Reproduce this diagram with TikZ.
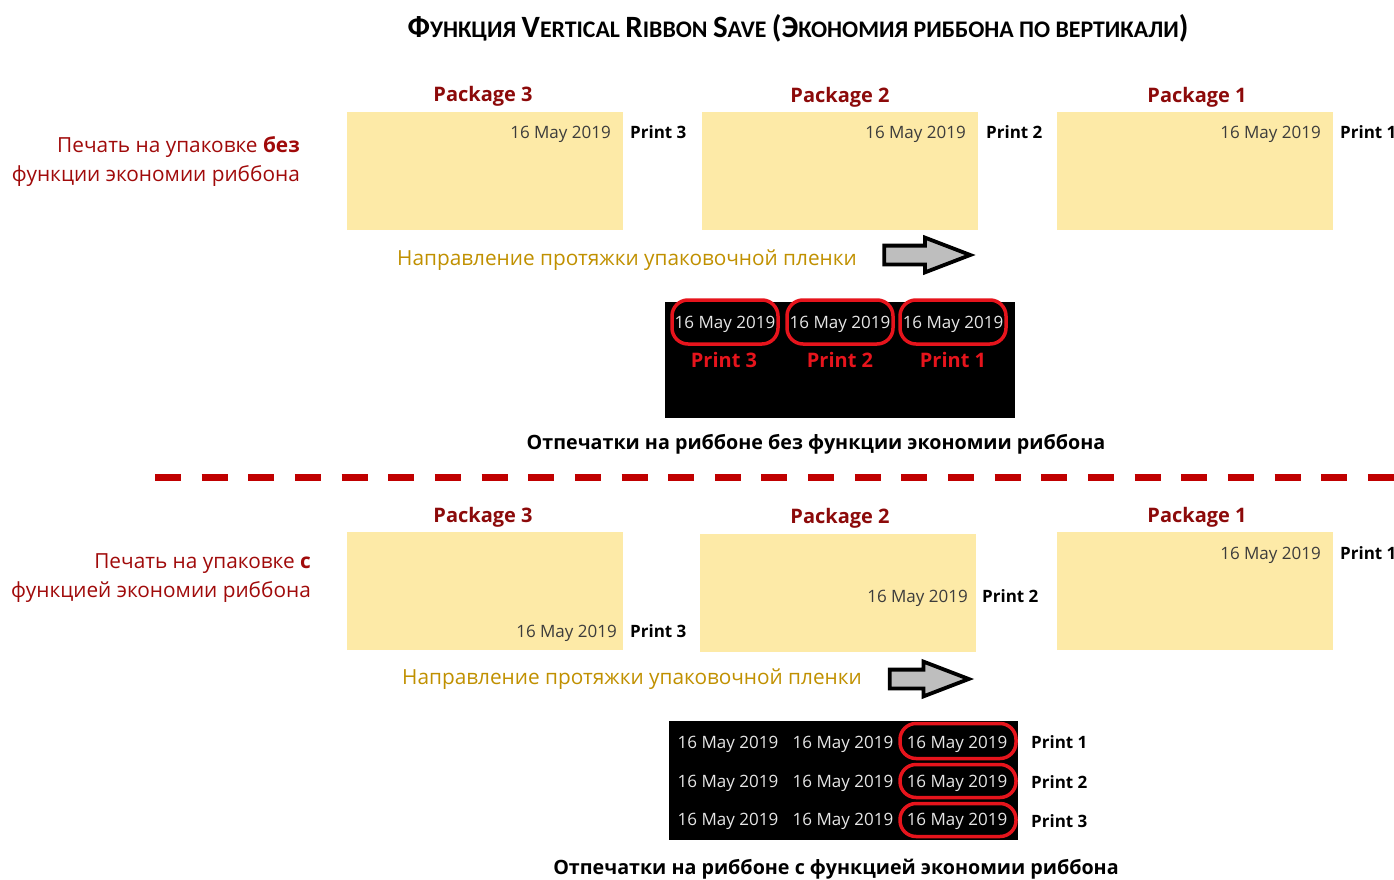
\documentclass[tikz,border=0pt]{standalone}
\usepackage{fontspec}
\setmainfont{Open Sans}
\newfontfamily\titlefont{Carlito}
\usetikzlibrary{shapes.arrows}
\definecolor{pkgyellow}{RGB}{253,234,167}
\definecolor{pkgred}{RGB}{140,10,10}
\definecolor{lblred}{RGB}{160,10,10}
\definecolor{gold}{RGB}{192,144,0}
\definecolor{dategray}{RGB}{60,60,60}
\definecolor{ribbontext}{RGB}{230,230,230}
\definecolor{ovalred}{RGB}{230,20,28}
\definecolor{dashred}{RGB}{192,0,0}
\definecolor{arrowgray}{RGB}{190,190,190}
\newcommand\tcap[1]{{\fontsize{31}{35}\selectfont #1}}
\newcommand\tsml[1]{{\fontsize{23.8}{28}\selectfont #1}}
\begin{document}
\begin{tikzpicture}[x=1pt,y=-1pt,
  pkgbox/.style={fill=pkgyellow, draw=none, minimum width=276pt, minimum height=118pt, anchor=north west, inner sep=0pt},
  pkglabel/.style={font=\bfseries\fontsize{20}{24}\selectfont, text=pkgred, anchor=base, inner sep=0pt},
  datetxt/.style={font=\fontsize{17}{20}\selectfont, text=dategray, anchor=base east, inner sep=0pt},
  printlbl/.style={font=\bfseries\fontsize{17}{20}\selectfont, text=black, anchor=base west, inner sep=0pt},
  sidelbl/.style={font=\fontsize{20.8}{24}\selectfont, text=lblred, anchor=base east, inner sep=0pt},
  dirtxt/.style={font=\fontsize{20.8}{24}\selectfont, text=gold, anchor=base west, inner sep=0pt},
  caption/.style={font=\bfseries\fontsize{19.7}{23}\selectfont, text=black, anchor=base, inner sep=0pt},
  ribbon/.style={fill=black, draw=none, anchor=north west, inner sep=0pt},
  ribdate/.style={font=\fontsize{17}{20}\selectfont, text=ribbontext, anchor=base, inner sep=0pt},
  ribprint/.style={font=\bfseries\fontsize{20}{24}\selectfont, text=ovalred, anchor=base, inner sep=0pt},
  oval/.style={draw=ovalred, line width=3.5pt, rounded corners=16pt, fill=none, inner sep=0pt},
  blockarrow/.style={single arrow, draw=black, fill=arrowgray, line width=3.8pt, inner xsep=0pt, inner ysep=7.5pt, single arrow tip angle=42, single arrow head extend=8pt, minimum height=#1, minimum width=32pt}
]
\useasboundingbox (0,0) rectangle (1394,880);

% title
\node[anchor=base, inner sep=0pt, font=\titlefont\bfseries\fontsize{23.8}{28}\selectfont] (title) at (798,38)
 {\tcap{Ф}\tsml{УНКЦИЯ} \tcap{V}\tsml{ERTICAL} \tcap{R}\tsml{IBBON} \tcap{S}\tsml{AVE} \tcap{(Э}\tsml{КОНОМИЯ РИББОНА ПО ВЕРТИКАЛИ}\tcap{)}};

% ---------- top part ----------
\node[sidelbl] (sl1a) at (300,152) {Печать на упаковке \textbf{без}};
\node[sidelbl] (sl1b) at (300,181) {функции экономии риббона};

\node[pkgbox] (p3a) at (347,112) {};
\node[pkgbox] (p2a) at (702,112) {};
\node[pkgbox] (p1a) at (1057,112) {};
\node[pkglabel] (l3a) at (483,102) {Package 3};
\node[pkglabel] (l2a) at (840,103) {Package 2};
\node[pkglabel] (l1a) at (1197,103) {Package 1};

\node[datetxt] (d3a) at (611,139) {16 May 2019};
\node[printlbl] (pr3a) at (630,139) {Print 3};
\node[datetxt] (d2a) at (966,139) {16 May 2019};
\node[printlbl] (pr2a) at (986,139) {Print 2};
\node[datetxt] (d1a) at (1321,139) {16 May 2019};
\node[printlbl] (pr1a) at (1340,139) {Print 1};

\node[dirtxt] (dir1) at (397,265) {Направление протяжки упаковочной пленки};
\node[blockarrow=86pt] (arr1) at (915,255) {};

\node[ribbon, minimum width=350pt, minimum height=116pt] (rib1) at (665,302) {};
\node[oval, minimum width=106pt, minimum height=44pt] (o3) at (725,322) {};
\node[oval, minimum width=106pt, minimum height=44pt] (o2) at (840,322) {};
\node[oval, minimum width=106pt, minimum height=44pt] (o1) at (953,322) {};
\node[ribdate] (rd3) at (725,328) {16 May 2019};
\node[ribdate] (rd2) at (840,328) {16 May 2019};
\node[ribdate] (rd1) at (953,328) {16 May 2019};
\node[ribprint] (rp3) at (724,367) {Print 3};
\node[ribprint] (rp2) at (840,367) {Print 2};
\node[ribprint] (rp1) at (953,367) {Print 1};

\node[caption] (cap1) at (816,449) {Отпечатки на риббоне без функции экономии риббона};

% divider
\coordinate (dl) at (155,477);
\coordinate (dr) at (1394,477);
\draw[dashred, line width=7pt, dash pattern=on 26pt off 20.65pt] (dl) -- (dr);

% ---------- bottom part ----------
\node[sidelbl] (sl2a) at (311,568) {Печать на упаковке \textbf{с}};
\node[sidelbl] (sl2b) at (311,597) {функцией экономии риббона};

\node[pkgbox] (p3b) at (347,532) {};
\node[pkgbox] (p2b) at (700,534) {};
\node[pkgbox] (p1b) at (1057,532) {};
\node[pkglabel] (l3b) at (483,522) {Package 3};
\node[pkglabel] (l2b) at (840,523) {Package 2};
\node[pkglabel] (l1b) at (1197,522) {Package 1};

\node[datetxt] (d3b) at (617,637) {16 May 2019};
\node[printlbl] (pr3b) at (630,637) {Print 3};
\node[datetxt] (d2b) at (968,602) {16 May 2019};
\node[printlbl] (pr2b) at (982,602) {Print 2};
\node[datetxt] (d1b) at (1321,559) {16 May 2019};
\node[printlbl] (pr1b) at (1340,559) {Print 1};

\node[dirtxt] (dir2) at (402,684) {Направление протяжки упаковочной пленки};
\node[blockarrow=79pt] (arr2) at (917,679) {};

\node[ribbon, minimum width=349pt, minimum height=119pt] (rib2) at (669,721) {};
\node[oval, minimum width=116pt, minimum height=35pt] (q1) at (958,741) {};
\node[oval, minimum width=116pt, minimum height=33pt] (q2) at (958,781) {};
\node[oval, minimum width=116pt, minimum height=33pt] (q3) at (958,820) {};
\foreach \r/\yy in {1/748,2/787,3/825} {
  \node[ribdate] (ra\r) at (728,\yy) {16 May 2019};
  \node[ribdate] (rb\r) at (843,\yy) {16 May 2019};
  \node[ribdate] (rc\r) at (957,\yy) {16 May 2019};
}
\node[printlbl] (bp1) at (1031,748) {Print 1};
\node[printlbl] (bp2) at (1031,788) {Print 2};
\node[printlbl] (bp3) at (1031,827) {Print 3};

\node[caption] (cap2) at (836,874) {Отпечатки на риббоне с функцией экономии риббона};
\end{tikzpicture}
\end{document}
